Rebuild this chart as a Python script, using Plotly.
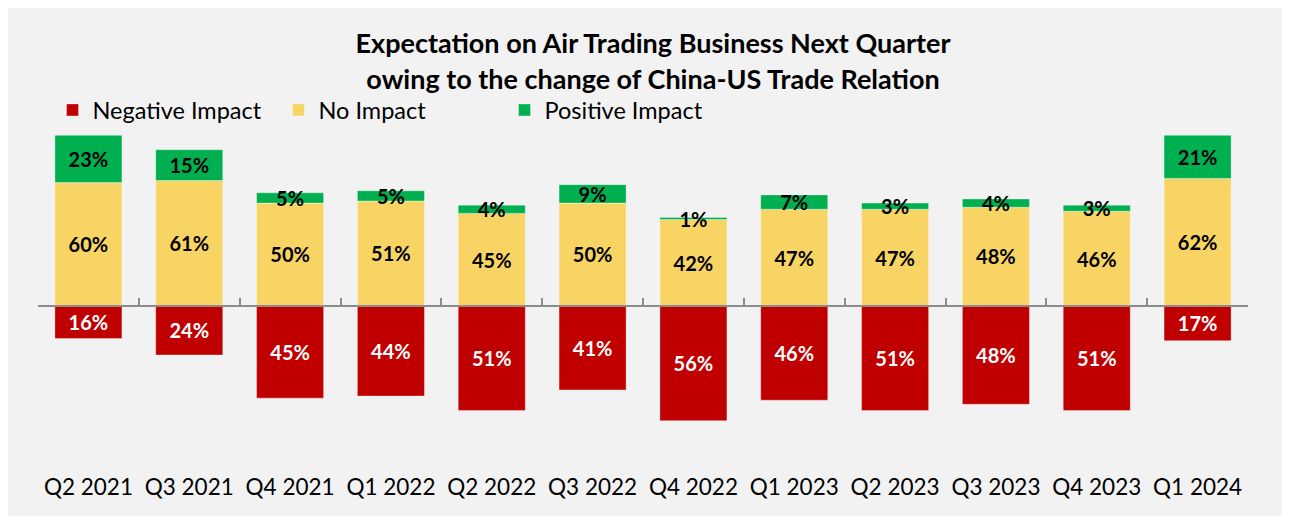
import plotly.graph_objects as go

# survey results, % of respondents
quarters = ["Q2 2021", "Q3 2021", "Q4 2021", "Q1 2022", "Q2 2022", "Q3 2022",
            "Q4 2022", "Q1 2023", "Q2 2023", "Q3 2023", "Q4 2023", "Q1 2024"]
negative = [16, 24, 45, 44, 51, 41, 56, 46, 51, 48, 51, 17]
no_impact = [60, 61, 50, 51, 45, 50, 42, 47, 47, 48, 46, 62]
positive = [23, 15, 5, 5, 4, 9, 1, 7, 3, 4, 3, 21]

FONT = "Lato"
RED = "#C00000"
YELLOW = "#F8D465"
GREEN = "#00B050"
AXIS_GREY = "#8C8C8C"

y_lo, y_hi = -80.5, 90
zero_pos = -y_lo / (y_hi - y_lo)

fig = go.Figure()

fig.add_trace(go.Bar(
    x=quarters, y=[-v for v in negative], name="Negative Impact",
    text=[f"{v}%" for v in negative], textposition="inside",
    insidetextanchor="middle",
    textfont=dict(color="white", size=20, family=FONT, weight="bold"),
    marker=dict(color=RED, line=dict(color="rgba(255,255,255,0.35)", width=1)),
    xaxis="x2", yaxis="y", hoverinfo="skip"))

fig.add_trace(go.Bar(
    x=quarters, y=no_impact, name="No Impact",
    text=[f"{v}%" for v in no_impact], textposition="inside",
    insidetextanchor="middle",
    textfont=dict(color="black", size=20, family=FONT, weight="bold"),
    marker=dict(color=YELLOW, line=dict(color="rgba(255,255,255,0.35)", width=1)),
    hoverinfo="skip"))

fig.add_trace(go.Bar(
    x=quarters, y=positive, name="Positive Impact",
    text=[f"{v}%" for v in positive], textposition="inside",
    insidetextanchor="middle",
    textfont=dict(color="black", size=20, family=FONT, weight="bold"),
    marker=dict(color=GREEN, line=dict(color="rgba(255,255,255,0.35)", width=1)),
    hoverinfo="skip"))

fig.update_layout(
    width=1290, height=516,
    barmode="relative", bargap=0.335,
    paper_bgcolor="#F2F2F2", plot_bgcolor="#F2F2F2",
    margin=dict(l=30, r=50, t=113, b=53),
    font=dict(family=FONT, color="black"),
    uniformtext=dict(minsize=20, mode="show"),
    title=dict(
        text="Expectation on Air Trading Business Next Quarter<br>owing to the change of China-US Trade Relation",
        x=0.5, xanchor="center", y=0.912, yanchor="top",
        font=dict(size=27, family=FONT, color="black", weight="bold")),
    legend=dict(orientation="h", x=0.012, xanchor="left", y=1.031, yanchor="middle",
                font=dict(size=23.5, family=FONT), bgcolor="rgba(0,0,0,0)",
                entrywidth=181, entrywidthmode="pixels",
                traceorder="normal"),
    xaxis=dict(range=[-0.5, 11.5], showline=False, ticks="", showgrid=False,
               tickfont=dict(size=22.5, family=FONT, color="black")),
    xaxis2=dict(overlaying="x", matches="x", anchor="free", position=zero_pos,
                showline=True, linecolor=AXIS_GREY, linewidth=2,
                ticks="inside", tickson="boundaries", ticklen=7, tickwidth=2,
                tickcolor=AXIS_GREY, showticklabels=False, showgrid=False),
    yaxis=dict(range=[y_lo, y_hi], visible=False, zeroline=False, showgrid=False),
)

fig.write_html("out.html")
